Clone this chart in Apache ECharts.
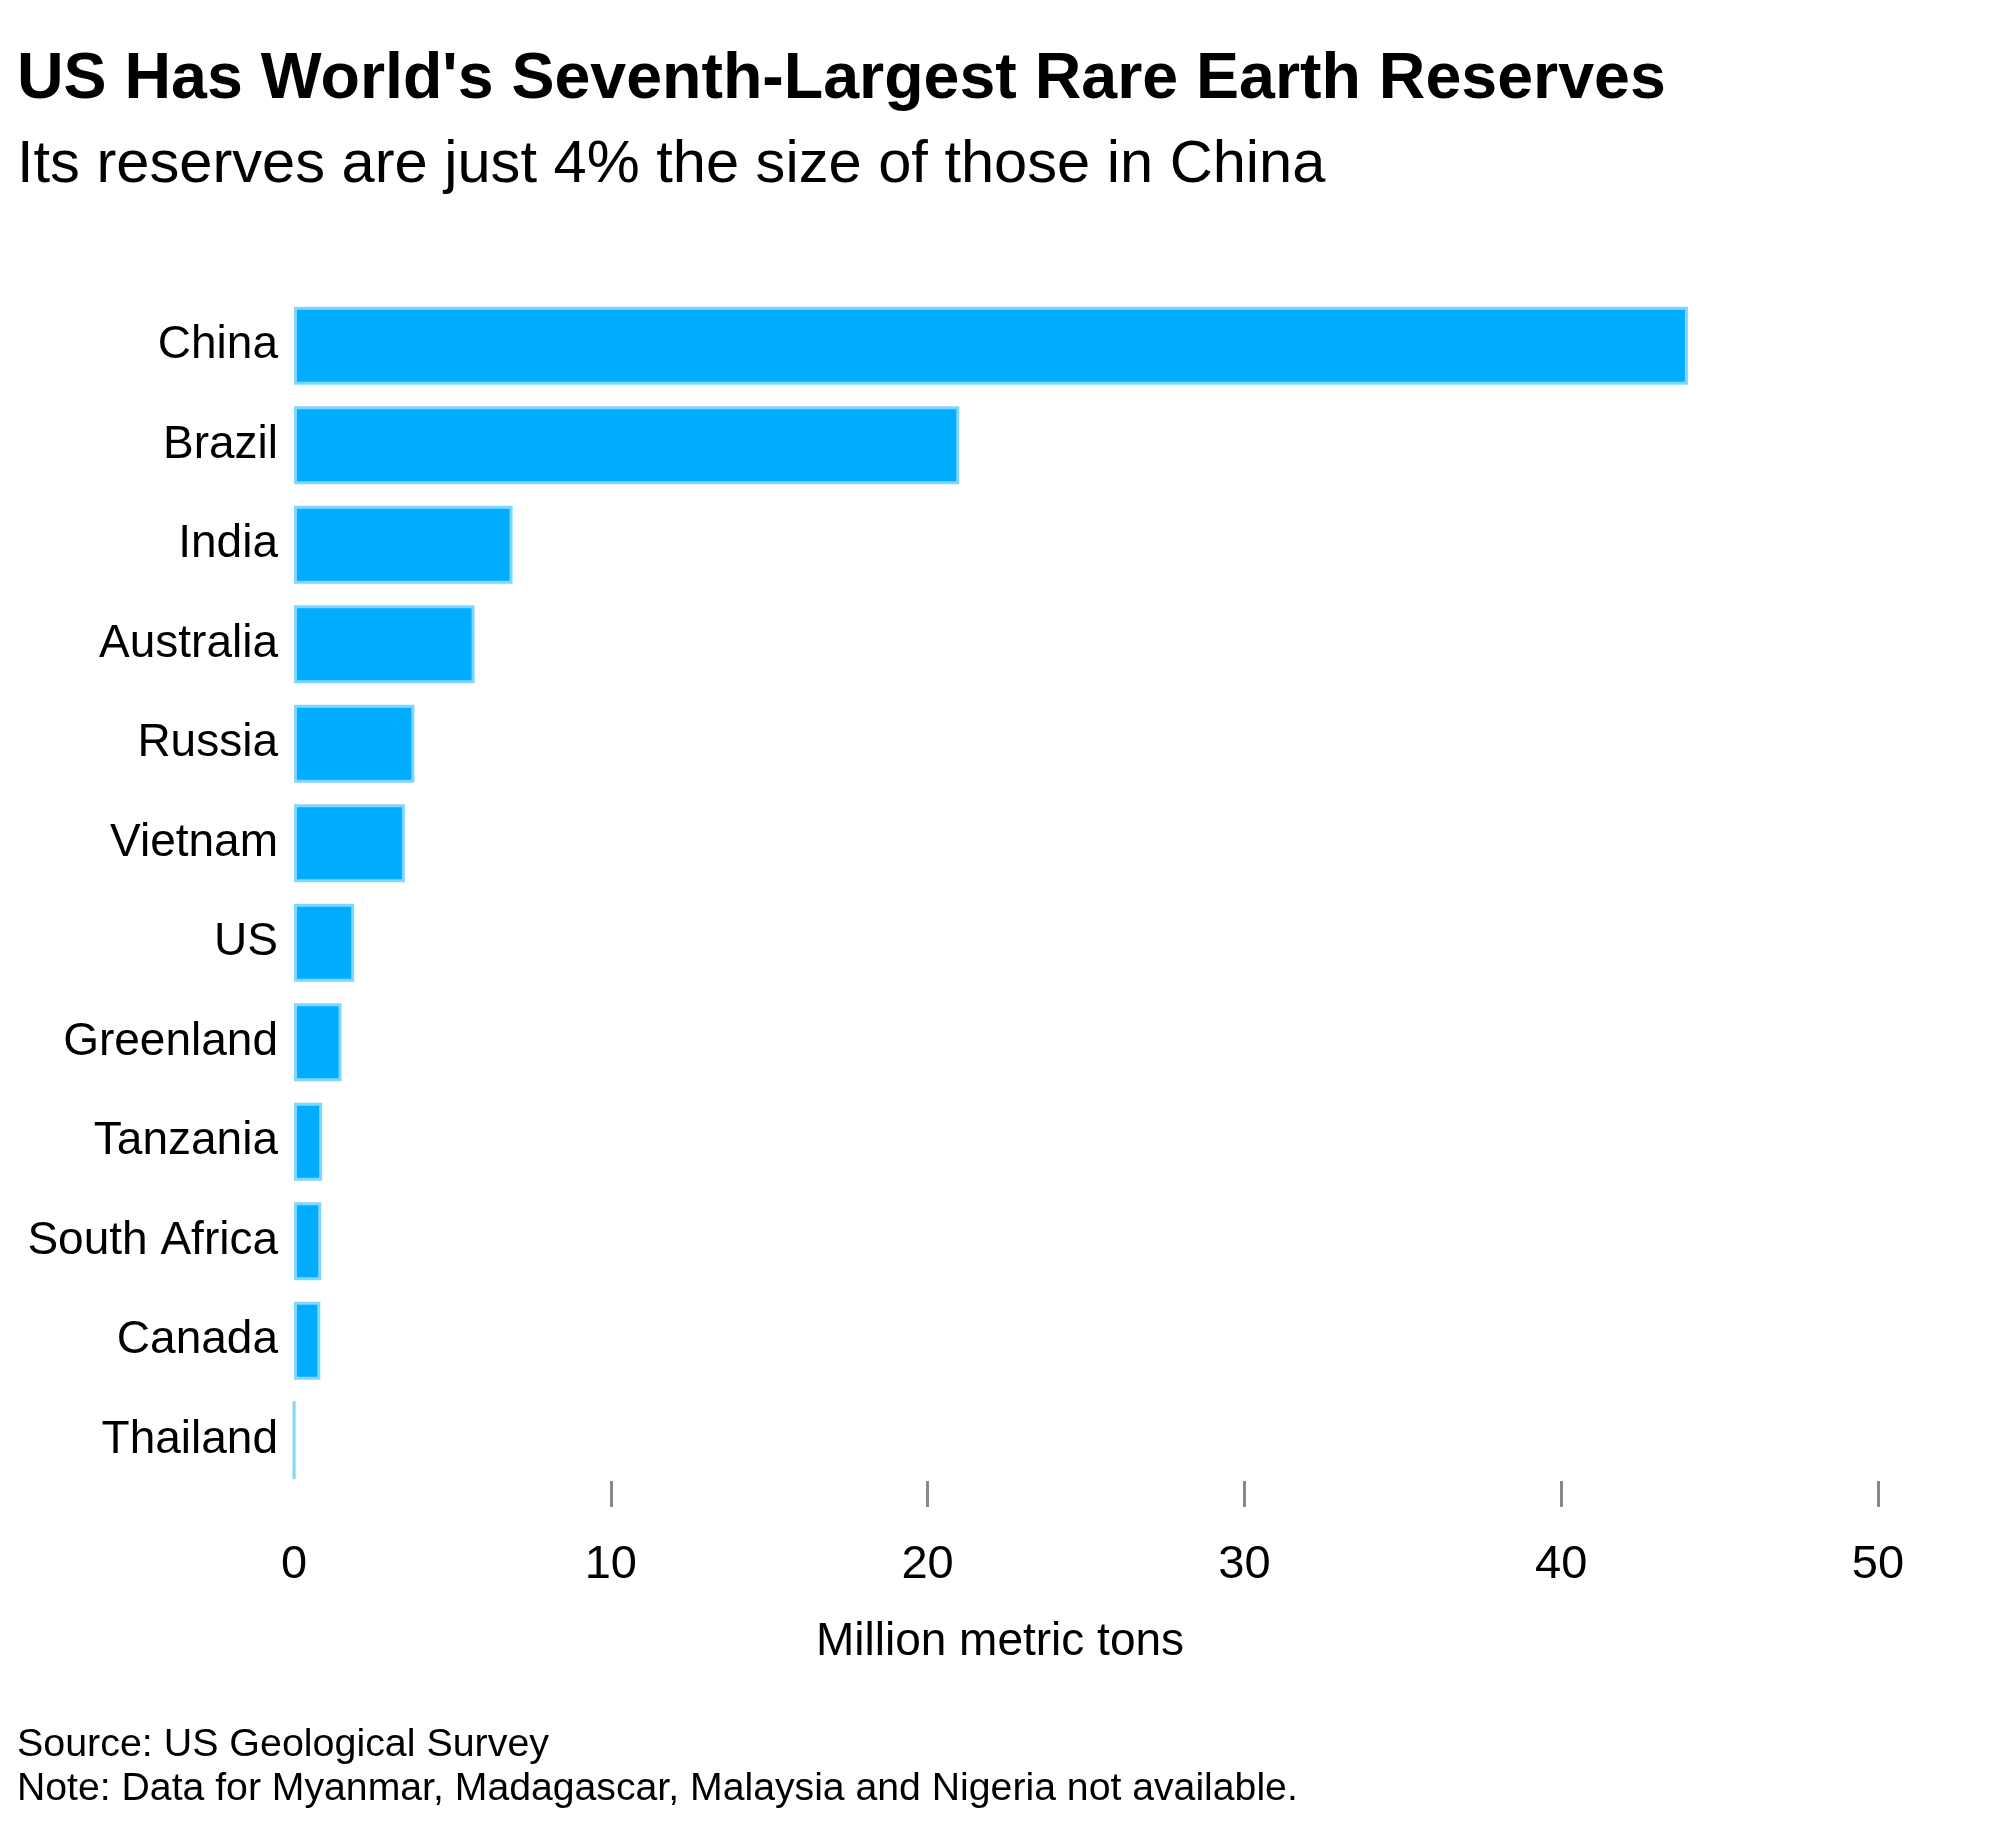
<!DOCTYPE html>
<html>
<head>
<meta charset="utf-8">
<script src="https://cdn.jsdelivr.net/npm/echarts@6/dist/echarts.min.js"></script>
<style>
html,body{margin:0;padding:0;background:#fff;}
#chart{width:2000px;height:1830px;}
</style>
</head>
<body>
<div id="chart"></div>
<script>
const countries = ['China','Brazil','India','Australia','Russia','Vietnam','US','Greenland','Tanzania','South Africa','Canada','Thailand'];
const reserves = [44, 21, 6.9, 5.7, 3.8, 3.5, 1.9, 1.5, 0.89, 0.86, 0.83, 0.0045];
const xTicks = [10, 20, 30, 40, 50];

const titleText = "US Has World's Seventh-Largest Rare Earth Reserves";
const subtitleText = 'Its reserves are just 4% the size of those in China';
const axisTitle = 'Million metric tons';
const sourceText = 'Source: US Geological Survey';
const noteText = 'Note: Data for Myanmar, Madagascar, Malaysia and Nigeria not available.';

const FONT = '"Liberation Sans", Arial, Helvetica, sans-serif';
const chart = echarts.init(document.getElementById('chart'), null, {renderer: 'canvas'});

function t(text, size, center, weight, left) {
  return {
    text: text,
    left: left,
    top: center - size / 2,
    padding: 0,
    textStyle: {fontFamily: FONT, fontSize: size, lineHeight: size, fontWeight: weight, color: '#000'}
  };
}

chart.setOption({
  backgroundColor: '#fff',
  animation: false,
  title: [
    t(titleText, 64.5, 80, 'bold', 17),
    t(subtitleText, 59.6, 166, 'normal', 17),
    t(axisTitle, 46, 1642, 'normal', 'center'),
    t(sourceText, 39.4, 1745, 'normal', 17),
    t(noteText, 39.2, 1789, 'normal', 17)
  ],
  grid: {left: 294, right: 122, top: 296, bottom: 340, containLabel: false},
  xAxis: {
    type: 'value',
    min: 0, max: 50, interval: 10,
    offset: -9,
    axisLine: {show: false},
    splitLine: {show: false},
    axisTick: {show: true, length: 26, customValues: xTicks, lineStyle: {color: '#888', width: 3}},
    axisLabel: {fontFamily: FONT, fontSize: 47, color: '#000', margin: 84, verticalAlign: 'middle'}
  },
  yAxis: {
    type: 'category',
    inverse: true,
    data: countries,
    axisLine: {show: false},
    axisTick: {show: false},
    axisLabel: {fontFamily: FONT, fontSize: 46, color: '#000', margin: 16}
  },
  series: [{
    type: 'bar',
    data: reserves,
    barWidth: 78,
    itemStyle: {color: '#00adff', borderColor: '#80d6ff', borderWidth: 3}
  }]
});
</script>
</body>
</html>
